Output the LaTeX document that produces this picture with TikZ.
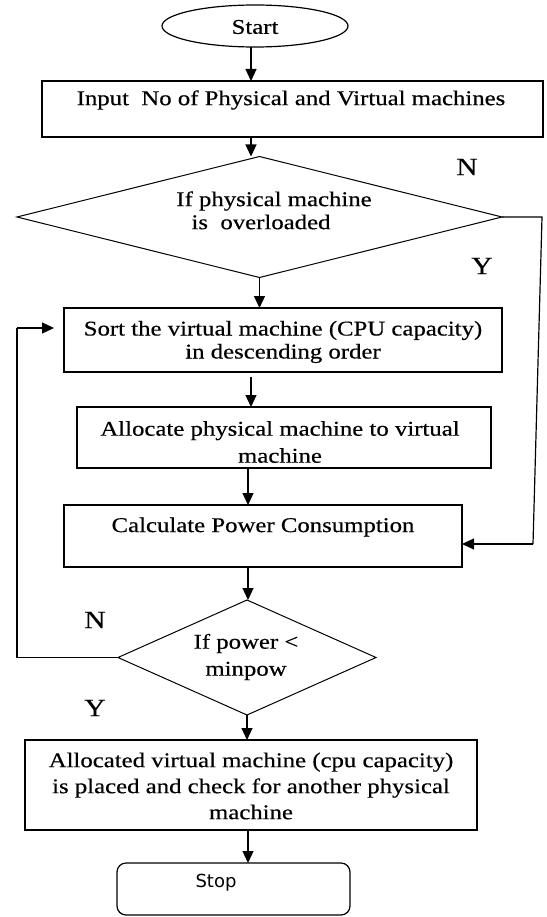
\documentclass[tikz,border=0pt]{standalone}
\usepackage{fontspec}
\setmainfont{Liberation Serif}[FakeStretch=1.18,FakeBold=0.4]
\newfontfamily\stopfont{DejaVu Sans}
\usetikzlibrary{shapes.geometric,arrows.meta}
\begin{document}
\begin{tikzpicture}[x=1pt,y=-1pt,
  every node/.style={inner sep=0pt,outer sep=0pt},
  shapeline/.style={draw,line width=1.2pt},
  procbox/.style={shapeline,rectangle},
  decbox/.style={shapeline,diamond,line width=1pt},
  txt/.style={font=\fontsize{21}{23}\selectfont,align=center},
  yn/.style={font=\fontsize{25}{25}\selectfont},
  arr/.style={-{Triangle[length=12pt,width=11pt]},line width=1.2pt},
  link/.style={line width=1.2pt}]
\useasboundingbox (0,0) rectangle (546,917);
% shapes
\node[shapeline,ellipse,minimum width=186pt,minimum height=42pt] (start) at (255,26) {};
\node[procbox,minimum width=501pt,minimum height=56pt] (input) at (292.5,109) {};
\node[decbox,minimum width=485pt,minimum height=121pt] (d1) at (259.5,217) {};
\node[procbox,minimum width=438pt,minimum height=64pt] (sort) at (283,340) {};
\node[procbox,minimum width=414pt,minimum height=61pt] (alloc) at (284,437.5) {};
\node[procbox,minimum width=398pt,minimum height=62pt] (calc) at (263,536) {};
\node[decbox,minimum width=258pt,minimum height=115pt] (d2) at (247,657.5) {};
\node[procbox,minimum width=452pt,minimum height=90pt] (final) at (251,785) {};
\node[procbox,rounded corners=9pt,minimum width=233pt,minimum height=52pt] (stop) at (233.5,889) {};
% texts
\node[txt] (tstart) at (255,27) {Start};
\node[txt] (tinput) at (291,100) {Input\ \ No of Physical and Virtual machines};
\node[txt] (td1a) at (274,201) {If physical machine};
\node[txt] (td1b) at (261,222) {is\ \ overloaded};
\node[txt,font=\fontsize{21}{23}\selectfont] (tsort) at (283,342) {Sort the virtual machine (CPU capacity)\\in descending order};
\node[txt,font=\fontsize{21}{27}\selectfont] (talloc) at (280,442) {Allocate physical machine to virtual\\machine};
\node[txt] (tcalc) at (263,527) {Calculate Power Consumption};
\node[txt,font=\fontsize{21}{27}\selectfont] (td2) at (246,657) {If power <\\minpow};
\node[txt,font=\fontsize{21}{26}\selectfont] (tfinal) at (251,786) {Allocated virtual machine (cpu capacity)\\is placed and check for another physical\\machine};
\node[font=\stopfont\fontsize{18}{18}\selectfont] (tstop) at (216,883) {Stop};
\node[yn] (n1) at (467,167) {N};
\node[yn] (y1) at (482,266) {Y};
\node[yn] (n2) at (95,620) {N};
\node[yn] (y2) at (95,708) {Y};
% helper coordinates
\coordinate (colA) at (251,0);
\coordinate (colC) at (248,0);
\coordinate (c1) at (542,217);
\coordinate (c2) at (533,544);
\coordinate (c3) at (17,657.5);
\coordinate (c4) at (17,328);
% connectors
\draw[arr] (start.south -| colA) -- (input.north -| colA);
\draw[arr] (input.south -| colA) -- (d1.north -| colA);
\draw[arr] (d1.south) -- (sort.north -| d1.south);
\draw[arr,shorten <=5pt] (sort.south -| colA) -- (alloc.north -| colA);
\draw[arr] (alloc.south -| colC) -- (calc.north -| colC);
\draw[arr] (calc.south -| colC) -- (d2.north -| colC);
\draw[arr] (d2.south) -- (final.north -| d2.south);
\draw[arr] (final.south -| colC) -- (stop.north -| colC);
\draw[link] (d1.east) -- (c1) -- (c2);
\draw[arr] (c2) -- (calc.east |- c2);
\draw[link] (d2.west) -- (c3) -- (c4);
\draw[arr,shorten >=10pt] (c4) -- (sort.west |- c4);
\end{tikzpicture}
\end{document}
